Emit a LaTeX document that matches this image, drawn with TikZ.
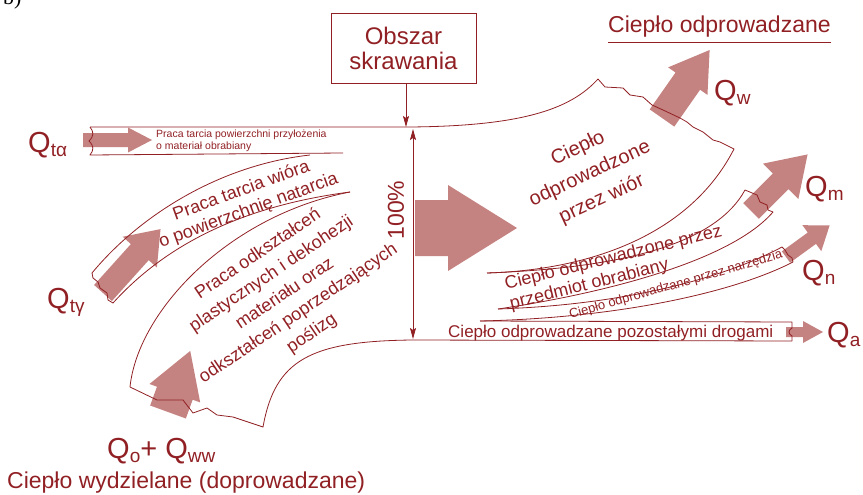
\documentclass[tikz,border=0pt]{standalone}
\usepackage{fontspec}
\setmainfont{Liberation Sans}
\newfontfamily\serifface{Liberation Serif}
\usetikzlibrary{arrows.meta}
\definecolor{heatred}{RGB}{145,32,36}
\definecolor{flowpink}{RGB}{196,130,128}
\tikzset{
  bandline/.style={draw=heatred, line width=0.8pt, line join=round},
  flowfill/.style={fill=flowpink, draw=none},
  heattext/.style={text=heatred, inner sep=0pt},
  qtext/.style={heattext, anchor=base west, font=\fontsize{29}{29}\selectfont},
  tickarrow/.style={draw=heatred, line width=0.8pt, -{Stealth[length=11pt, width=6pt, inset=2pt]}},
  tickboth/.style={tickarrow, {Stealth[length=11pt, width=6pt, inset=2pt]}-{Stealth[length=11pt, width=6pt, inset=2pt]}}
}
% start, angle, length, shaft half width, head half width, head length
\newcommand{\fatarrow}[6]{
  \fill[flowfill, shift={#1}, rotate=#2] (0,-#4) -- ({#3-#6},-#4) -- ({#3-#6},-#5) -- (#3,0)
    -- ({#3-#6},#5) -- ({#3-#6},#4) -- (0,#4) -- cycle;
}
\newcommand{\qsub}[1]{\raisebox{-4pt}{\fontsize{19}{19}\selectfont #1}}

\begin{document}
\begin{tikzpicture}[x=1pt, y=-1pt]
  \useasboundingbox (0,0) rectangle (863,495);
  % Heat flow arrows
  \fatarrow{(83,140)}{0}{69}{7}{12.5}{24}
  \fatarrow{(103,293)}{48}{86}{12}{23}{31}
  \fatarrow{(168,412)}{70}{65}{19}{27}{45}
  \fatarrow{(415,228)}{0}{102}{28}{43}{69}
  \fatarrow{(662,118)}{55}{83}{15}{24}{38}
  \fatarrow{(751,211)}{45}{80}{11}{25}{38}
  \fatarrow{(786,257)}{36}{54}{7}{16}{22}
  \fatarrow{(786,332)}{0}{37}{5}{11}{20}

  % Inflow bands
  \draw[bandline] (90,127) -- (410,127) .. controls (520,126) and (570,110) .. (598,79);
  \draw[bandline] (343,153) -- (90,155) .. controls (94,150) and (94,146) .. (89,141)
    .. controls (94,136) and (94,132) .. (90,127);
  \draw[bandline] (310,155) .. controls (220,165) and (140,215) .. (92,273) -- (93,278) -- (98,282)
    -- (100,288) -- (107,293) -- (108,300) -- (113,303) .. controls (170,240) and (250,205) .. (350,192);
  \draw[bandline] (350,192) .. controls (230,215) and (138,310) .. (130,387) -- (157,400) -- (183,400)
    -- (193,413) -- (207,408) -- (217,415) -- (233,417) -- (263,427)
    .. controls (275,360) and (310,341) .. (413,340) -- (792,341);

  % Outflow bands
  \draw[bandline] (598,79) -- (605,87) -- (623,88) -- (630,95) -- (643,97) -- (652,105) -- (663,110)
    -- (680,118) -- (687,122) -- (693,127) -- (703,132) -- (713,140) -- (720,142) -- (734,149)
    .. controls (690,235) and (590,270) .. (487,273);
  \draw[bandline] (487,273) .. controls (620,268) and (715,245) .. (745,190) -- (757,195) -- (760,202)
    -- (767,205) -- (768,210) -- (773,212) .. controls (730,262) and (600,294) .. (498,309);
  \draw[bandline] (498,309) .. controls (620,305) and (720,280) .. (782,247) -- (785,250) -- (788,255)
    -- (792,258) -- (793,262) .. controls (735,292) and (620,318) .. (480,321);
  \draw[bandline] (480,321) -- (792,322) -- (792,328) .. controls (788,330) and (788,334) .. (792,336) -- (792,341);

  % Cutting zone and 100%
  \node[heattext, draw=heatred, line width=0.8pt, minimum width=145pt, minimum height=70pt,
    align=center, font=\fontsize{24}{25}\selectfont] (area) at (403.5,48) {Obszar\\skrawania};
  \coordinate (cuttop) at (406,127);
  \draw[tickarrow] (area.south -| cuttop) -- (cuttop);
  \coordinate (pcttop) at (413,129);
  \coordinate (pctbot) at (413,339);
  \draw[tickboth] (pcttop) -- (pctbot);
  \node[heattext, rotate=90, font=\fontsize{23}{23}\selectfont] (pct) at (396,210) {100\%};

  % Band texts
  \node[heattext, align=left, anchor=west, font=\fontsize{10.5}{12}\selectfont] (flank) at (156,141)
    {Praca tarcia powierzchni przyłożenia\\o materiał obrabiany};
  \node[heattext, align=center, rotate=20, font=\fontsize{18}{21}\selectfont] (rake) at (245,201)
    {Praca tarcia wióra\\o powierzchnię natarcia};
  \node[heattext, align=center, rotate=34, font=\fontsize{18}{24}\selectfont] (shear) at (285,294)
    {Praca odkształceń\\plastycznych i dekohezji\\materiału oraz\\odkształceń poprzedzających\\poślizg};
  \node[heattext, align=center, rotate=25, font=\fontsize{20}{28}\selectfont] (chip) at (590,174)
    {Ciepło\\odprowadzone\\przez wiór};
  \node[heattext, align=left, rotate=14, font=\fontsize{18}{20}\selectfont] (workpiece) at (616,268)
    {Ciepło odprowadzone przez\\przedmiot obrabiany};
  \node[heattext, rotate=16, font=\fontsize{13}{13}\selectfont] (tool) at (676,285)
    {Ciepło odprowadzane przez narzędzia};
  \node[heattext, anchor=base west, font=\fontsize{17}{17}\selectfont] (other) at (448,337)
    {Ciepło odprowadzane pozostałymi drogami};

  % Headings
  \node[heattext, anchor=base west, font=\fontsize{23}{23}\selectfont] (heatout) at (608,33) {Ciepło odprowadzane};
  \draw[bandline] ([yshift=-9pt]heatout.base west) -- ([yshift=-9pt]heatout.base east);
  \node[heattext, anchor=base west, font=\fontsize{23}{23}\selectfont] (heatin) at (7,488)
    {Ciepło wydzielane (doprowadzane)};
  \node[anchor=base west, inner sep=0pt, font=\serifface\fontsize{22}{22}\selectfont] (panel) at (3,5) {b)};

  % Heat symbols
  \node[qtext] (qta) at (28,153) {Q\qsub{tα}};
  \node[qtext] (qtg) at (47,308) {Q\qsub{tγ}};
  \node[qtext] (qsum) at (107,458) {Q\qsub{o}+ Q\qsub{ww}};
  \node[qtext] (qw) at (714,100) {Q\qsub{w}};
  \node[qtext] (qm) at (805,196) {Q\qsub{m}};
  \node[qtext] (qn) at (802,280) {Q\qsub{n}};
  \node[qtext] (qa) at (827,342) {Q\qsub{a}};
\end{tikzpicture}
\end{document}
